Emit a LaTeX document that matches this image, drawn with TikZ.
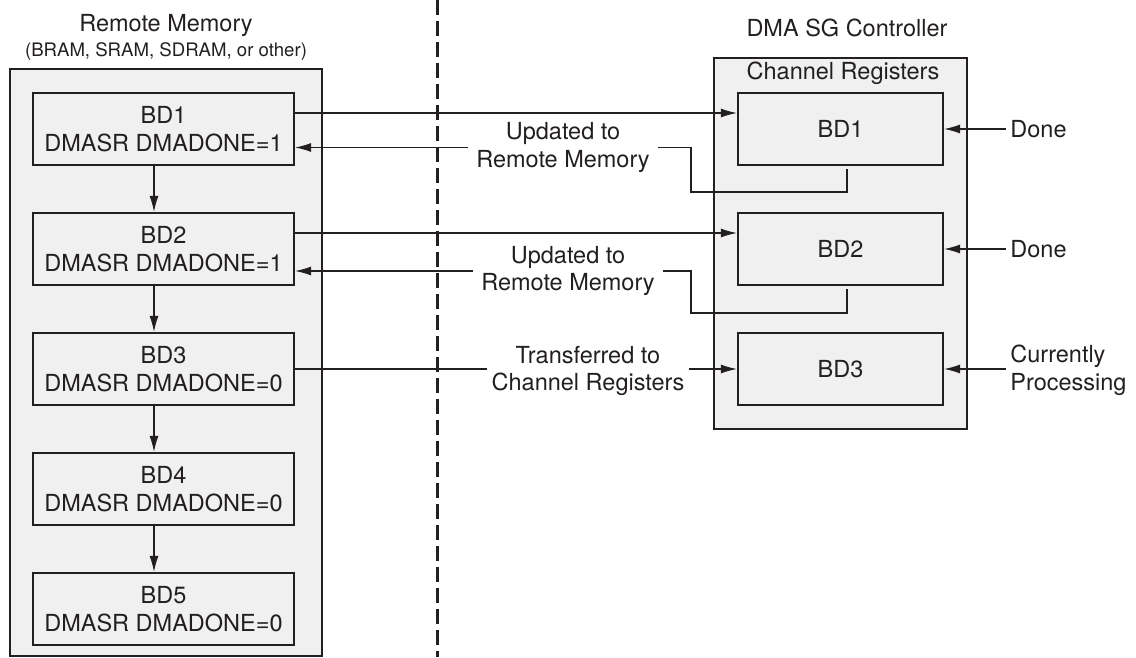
\documentclass[tikz,border=0pt]{standalone}
\usepackage{fontspec}
\setmainfont{TeX Gyre Heros}
\usetikzlibrary{arrows.meta}
\definecolor{ink}{HTML}{231F20}
\definecolor{panel}{HTML}{F0F0F0}
\tikzset{
  every node/.style={font=\fontsize{11.75}{13.8}\selectfont, text=ink},
  holder/.style={draw=ink, line width=1.1pt, fill=panel, inner sep=0pt},
  bdbox/.style={draw=ink, line width=1.1pt, fill=panel, inner sep=0pt, align=center},
  membox/.style={bdbox, minimum width=130.5pt, minimum height=36pt},
  regbox/.style={bdbox, minimum width=102.5pt, minimum height=36pt},
  wire/.style={draw=ink, line width=0.6pt},
  arr/.style={wire, -{Latex[length=8pt,width=4.5pt]}},
  lbl/.style={align=center, inner xsep=4pt, inner ysep=0pt},
  side/.style={align=left, anchor=west, inner sep=2pt},
}
\begin{document}
\begin{tikzpicture}[x=0.5pt, y=-0.5pt]
\useasboundingbox (0,0) rectangle (1136,658);

% left: remote memory with its chain of descriptors
\node[font=\fontsize{11.75}{14}\selectfont] (memtitle) at (166,25) {Remote Memory};
\node[font=\fontsize{9.3}{11}\selectfont] (memsub) at (166,52) {(BRAM, SRAM, SDRAM, or other)};
\node[holder, minimum width=156pt, minimum height=293.5pt] (mem) at (166,362.5) {};

\node[membox] (l1) at (163.5,129) {BD1\\DMASR DMADONE=1};
\node[membox] (l2) at (163.5,249) {BD2\\DMASR DMADONE=1};
\node[membox] (l3) at (163.5,369) {BD3\\DMASR DMADONE=0};
\node[membox] (l4) at (163.5,489) {BD4\\DMASR DMADONE=0};
\node[membox] (l5) at (163.5,609) {BD5\\DMASR DMADONE=0};

\foreach \a/\b in {l1/l2, l2/l3, l3/l4, l4/l5}
  \draw[arr] ([xshift=-4.75pt]\a.south) -- ([xshift=-4.75pt]\b.north);

% boundary between memory and controller
\coordinate (sepTop) at (437,0);
\coordinate (sepBot) at (437,657);
\draw[ink, line width=1.5pt, dash pattern=on 7.5pt off 3pt] (sepTop) -- (sepBot);

% right: DMA SG controller with its channel registers
\node[font=\fontsize{11.75}{14}\selectfont] (ctltitle) at (847,28) {DMA SG Controller};
\node[holder, minimum width=126.5pt, minimum height=185.5pt] (ctl) at (840.5,243.5) {};
\node (chregs) at (843,73) {Channel Registers};

\node[regbox] (r1) at (840.5,129) {BD1};
\node[regbox] (r2) at (840.5,249) {BD2};
\node[regbox] (r3) at (840.5,369) {BD3};

% descriptors fetched into the channel registers
\draw[arr] ([yshift=8pt]l1.east) -- ([yshift=8pt]l1.east -| r1.west);
\draw[arr] ([yshift=8pt]l2.east) -- ([yshift=8pt]l2.east -| r2.west);

% status written back to remote memory
\node[lbl] (u1) at (563,147.5) {Updated to\\Remote Memory};
\node[lbl] (u2) at (568,271) {Updated to\\Remote Memory};
\coordinate (k1) at (691,192);
\coordinate (k2) at (691,313);
\draw[wire] ([xshift=3.25pt,yshift=-1.5pt]r1.south) |- (k1) |- (u1.east);
\draw[arr] (u1.west) -- (u1.west -| l1.east);
\draw[wire] ([xshift=3.25pt,yshift=-1.5pt]r2.south) |- (k2) |- (u2.east);
\draw[arr] (u2.west) -- (u2.west -| l2.east);

% current descriptor transfer
\node[lbl, inner xsep=2pt] (t3) at (588,371) {Transferred to\\Channel Registers};
\draw[wire] (l3.east) -- (l3.east -| t3.west);
\draw[arr] (t3.east |- r3.west) -- (r3.west);

% register status
\node[side] (d1) at (1006,129) {Done};
\node[side] (d2) at (1006,249) {Done};
\node[side] (p3) at (1006,370) {Currently\\Processing};
\draw[arr] (d1.west) -- (d1.west -| r1.east);
\draw[arr] (d2.west) -- (d2.west -| r2.east);
\draw[arr] (p3.west |- r3.east) -- (r3.east);
\end{tikzpicture}
\end{document}
